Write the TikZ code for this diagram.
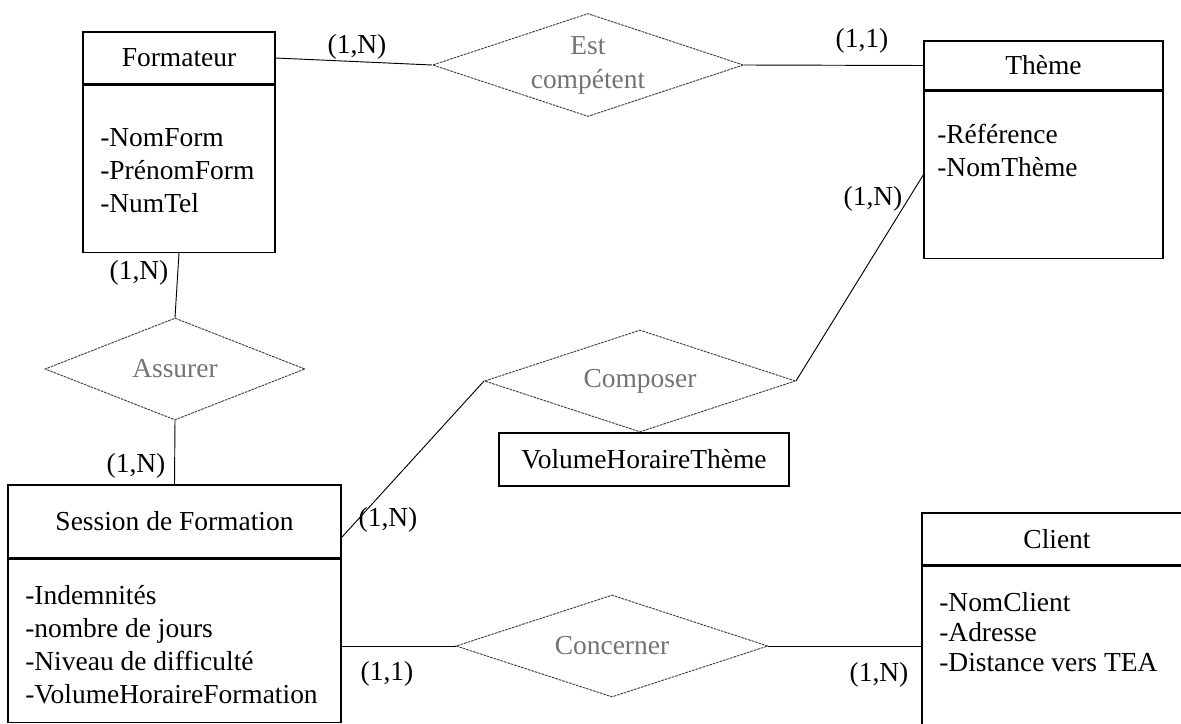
\documentclass[tikz,border=0pt]{standalone}
\usepackage{fontspec}
\setmainfont{Liberation Serif}
\usetikzlibrary{shapes.geometric,positioning}

\tikzset{
  entity/.style={draw, line width=0.9pt, inner sep=0pt},
  attrbox/.style={draw, line width=0.9pt, inner sep=0pt},
  relation/.style={diamond, aspect=3, draw=black!75, dash pattern=on 2pt off 0.7pt, line width=0.7pt, inner sep=0pt, text=black!55, align=center},
  card/.style={inner sep=0.75pt},
  attrs/.style={anchor=north west, align=left, inner sep=0.75pt},
  link/.style={line width=0.7pt}
}

\begin{document}
\begin{tikzpicture}[x=0.75pt,y=0.75pt,yscale=-1,xscale=1,font=\fontsize{20.6}{24.75}\selectfont]
	\clip (0,0) rectangle (1181,724);
	% entites
	\node [entity, minimum width=144pt, minimum height=39pt] (formateur) at (179,58) {Formateur};
	\node [attrbox, minimum width=144pt, minimum height=125.25pt, below=0pt of formateur] (formateurbody) {};
	\node [attrs] (formateurattr) at (99,127) {-NomForm\\-PrénomForm\\-NumTel};

	\node [entity, minimum width=179.25pt, minimum height=36.75pt] (theme) at (1043.5,65.5) {Thème};
	\node [attrbox, minimum width=179.25pt, minimum height=125.25pt, below=0pt of theme] (themebody) {};
	\node [attrs] (themeattr) at (936,123) {-Référence\\-NomThème};

	\node [entity, minimum width=249.75pt, minimum height=54.75pt] (session) at (174.5,521.5) {Session de Formation};
	\node [attrbox, minimum width=249.75pt, minimum height=122.25pt, below=0pt of session] (sessionbody) {};
	\node [attrs] (sessionattr) at (24,584) {-Indemnités\\-nombre de jours\\-Niveau de difficulté\\-VolumeHoraireFormation};

	\node [entity, minimum width=202.5pt, minimum height=39pt] (client) at (1057,539) {Client};
	\node [attrbox, minimum width=202.5pt, minimum height=150pt, below=0pt of client] (clientbody) {};
	\node [attrs, font=\fontsize{20.6}{22.5}\selectfont] (clientattr) at (938,591) {-NomClient\\-Adresse\\-Distance vers TEA};

	% associations
	\node [relation, minimum width=233.25pt, minimum height=77.25pt, font=\fontsize{20.6}{25.5}\selectfont] (estcomp) at (588,65) {Est\\compétent};
	\node [relation, aspect=2.55, minimum width=195pt, minimum height=76.5pt] (assurer) at (175,369) {Assurer};
	\node [relation, minimum width=233.25pt, minimum height=76.5pt] (composer) at (640,381) {Composer};
	\node [relation, minimum width=234pt, minimum height=76.5pt] (concerner) at (612,646) {Concerner};
	\node [attrbox, minimum width=217.5pt, minimum height=39.75pt] (volhoraire) at (644,459.5) {VolumeHoraireThème};

	% liens
	\draw [link] (formateur.east) -- (estcomp.west);
	\draw [link] (estcomp.east) -- (theme.west);
	\draw [link] (formateurbody.south) -- (assurer.north);
	\draw [link] (assurer.south) -- (session.north);
	\draw [link] ([yshift=12pt]session.east) -- (composer.west);
	\draw [link] (composer.east) -- (themebody.west);
	\draw [link] (sessionbody.east |- concerner.west) -- (concerner.west);
	\draw [link] (concerner.east) -- (concerner.east -| clientbody.west);

	% cardinalites
	\node [card] (cformest) at (357,47) {(1,N)};
	\node [card] (cthemeest) at (862,41) {(1,1)};
	\node [card] (cthemecomp) at (873,199) {(1,N)};
	\node [card] (cformass) at (139,273) {(1,N)};
	\node [card] (csessass) at (136,466) {(1,N)};
	\node [card] (csesscomp) at (388,520) {(1,N)};
	\node [card] (csessconc) at (387,674) {(1,1)};
	\node [card] (cclientconc) at (879,675) {(1,N)};
\end{tikzpicture}
\end{document}
